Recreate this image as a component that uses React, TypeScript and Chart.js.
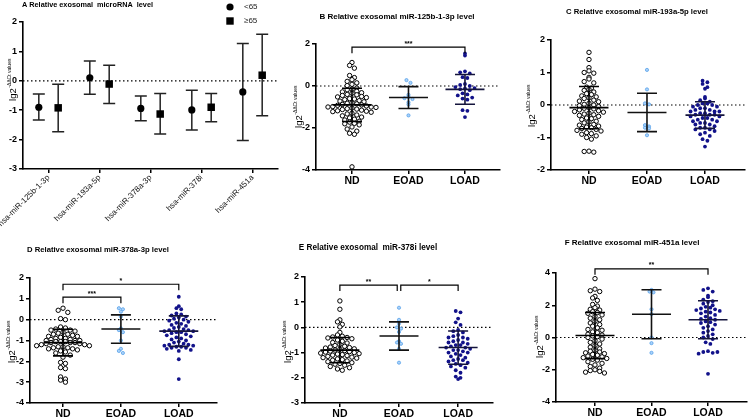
import React, { useEffect, useRef } from "react";
import { Chart, registerables } from "chart.js";

Chart.register(...registerables);

const FONT = '"Liberation Sans", Arial, Helvetica, sans-serif';
Chart.defaults.font.family = FONT;
Chart.defaults.color = "#000";

// ---------------- Panel A : group means with error bars ----------------
const miRNAs = ["hsa-miR-125b-1-3p", "hsa-miR-193a-5p", "hsa-miR-378a-3p", "hsa-miR-378i", "hsa-miR-451a"];
const youngMean = [-0.9, 0.1, -0.94, -0.99, -0.38];
const youngLow = [-1.33, -0.46, -1.36, -1.67, -2.03];
const youngHigh = [-0.45, 0.67, -0.52, -0.32, 1.27];
const oldMean = [-0.92, -0.11, -1.13, -0.9, 0.19];
const oldLow = [-1.73, -0.77, -1.81, -1.39, -1.19];
const oldHigh = [-0.12, 0.53, -0.43, -0.43, 1.58];
const legendLabels = ["<65", "≥65"];

// ---------------- Scatter panels ----------------
const groups = ["ND", "EOAD", "LOAD"];

// B miR-125b-1-3p
const bND = [1.12, 0.98, 0.85, 0.5, 0.4, 0.3, 0.22, 0.15, 0.08, 0.02, -0.1, -0.15, -0.18, -0.25, -0.28, -0.32, -0.35, -0.4, -0.42, -0.45, -0.5, -0.52, -0.55, -0.6, -0.62, -0.65, -0.7, -0.72, -0.75, -0.8, -0.82, -0.85, -0.88, -0.9, -0.92, -0.95, -0.98, -1.0, -1.0, -1.02, -1.05, -1.08, -1.1, -1.12, -1.15, -1.18, -1.2, -1.22, -1.25, -1.3, -1.33, -1.38, -1.42, -1.48, -1.52, -1.58, -1.62, -1.68, -1.72, -1.78, -1.8, -1.85, -1.95, -2.05, -2.15, -2.25, -2.3, -3.85];
const bEOAD = [0.28, 0.15, -0.42, -0.52, -0.58, -0.62, -0.78, -0.88, -1.4];
const bLOAD = [1.55, 1.45, 0.7, 0.65, 0.6, 0.42, 0.38, 0.1, 0.05, 0.0, -0.05, -0.1, -0.12, -0.15, -0.2, -0.35, -0.4, -0.45, -0.55, -0.6, -0.65, -1.15, -1.18, -1.48];
const bMean = [-0.9, -0.55, -0.16];
const bSD = [0.79, 0.52, 0.71];
const bSig: [number, number, number, string][] = [[1, 3, 1.85, "***"]];

// C miR-193a-5p
const cND = [1.62, 1.4, 1.15, 1.05, 1.0, 0.98, 0.85, 0.8, 0.72, 0.68, 0.55, 0.52, 0.48, 0.45, 0.4, 0.35, 0.32, 0.28, 0.25, 0.22, 0.2, 0.15, 0.12, 0.1, 0.05, 0.02, 0.0, -0.02, -0.05, -0.08, -0.1, -0.12, -0.15, -0.18, -0.2, -0.22, -0.25, -0.28, -0.3, -0.32, -0.35, -0.4, -0.42, -0.45, -0.5, -0.52, -0.55, -0.6, -0.62, -0.65, -0.68, -0.7, -0.72, -0.75, -0.78, -0.8, -0.85, -0.88, -0.9, -0.95, -1.0, -1.05, -1.42, -1.43, -1.45];
const cEOAD = [1.08, 0.48, 0.05, 0.02, -0.62, -0.66, -0.7, -0.72, -0.93];
const cLOAD = [0.75, 0.7, 0.65, 0.55, 0.5, 0.25, 0.2, 0.15, 0.1, 0.05, 0.05, 0.0, 0.0, -0.05, -0.05, -0.1, -0.1, -0.15, -0.15, -0.2, -0.2, -0.2, -0.25, -0.25, -0.3, -0.3, -0.3, -0.35, -0.35, -0.4, -0.4, -0.45, -0.45, -0.5, -0.5, -0.55, -0.55, -0.6, -0.6, -0.65, -0.7, -0.7, -0.75, -0.75, -0.8, -0.85, -0.9, -0.95, -1.05, -1.1, -1.28];
const cMean = [-0.08, -0.23, -0.31];
const cSD = [0.65, 0.59, 0.41];
const cSig: [number, number, number, string][] = [];

// D miR-378a-3p
const dND = [0.55, 0.45, 0.35, 0.05, 0.0, -0.35, -0.4, -0.45, -0.5, -0.5, -0.55, -0.6, -0.65, -0.7, -0.7, -0.75, -0.8, -0.8, -0.85, -0.9, -0.9, -0.95, -0.95, -1.0, -1.0, -1.0, -1.05, -1.05, -1.05, -1.1, -1.1, -1.1, -1.15, -1.15, -1.2, -1.2, -1.25, -1.25, -1.3, -1.3, -1.35, -1.35, -1.4, -1.4, -1.45, -1.5, -1.55, -1.6, -1.7, -1.8, -2.05, -2.1, -2.3, -2.35, -2.75, -2.85, -2.9, -3.0];
const dEOAD = [0.55, 0.5, 0.38, 0.15, -0.42, -0.5, -0.6, -1.0, -1.4, -1.5, -1.6];
const dLOAD = [1.1, 0.65, 0.55, 0.5, 0.3, 0.25, 0.2, 0.15, 0.1, 0.05, 0.0, -0.05, -0.1, -0.15, -0.2, -0.25, -0.3, -0.35, -0.4, -0.45, -0.5, -0.5, -0.55, -0.55, -0.6, -0.6, -0.65, -0.7, -0.75, -0.8, -0.85, -0.9, -0.95, -1.0, -1.05, -1.1, -1.15, -1.2, -1.2, -1.25, -1.25, -1.3, -1.3, -1.35, -1.35, -1.4, -1.45, -1.5, -1.9, -2.85];
const dMean = [-1.1, -0.45, -0.55];
const dSD = [0.64, 0.68, 0.73];
const dSig: [number, number, number, string][] = [[1, 2, 1.08, "***"], [1, 3, 1.7, "*"]];

// E miR-378i
const eND = [1.05, 0.72, 0.3, 0.22, 0.12, 0.02, -0.2, -0.3, -0.35, -0.38, -0.4, -0.42, -0.45, -0.5, -0.55, -0.6, -0.62, -0.68, -0.72, -0.75, -0.78, -0.8, -0.82, -0.85, -0.87, -0.9, -0.92, -0.94, -0.96, -0.98, -1.0, -1.02, -1.04, -1.06, -1.08, -1.1, -1.12, -1.15, -1.18, -1.2, -1.22, -1.25, -1.28, -1.3, -1.33, -1.36, -1.4, -1.43, -1.46, -1.5, -1.55, -1.6, -1.65, -1.7];
const eEOAD = [0.78, 0.3, 0.15, 0.0, -0.05, -0.18, -0.55, -0.6, -0.65, -0.85, -1.4];
const eLOAD = [0.65, 0.6, 0.35, 0.2, 0.1, -0.1, -0.15, -0.2, -0.3, -0.35, -0.4, -0.4, -0.45, -0.5, -0.55, -0.6, -0.6, -0.65, -0.7, -0.7, -0.75, -0.8, -0.8, -0.85, -0.9, -0.9, -0.95, -1.0, -1.0, -1.05, -1.1, -1.15, -1.2, -1.25, -1.3, -1.3, -1.35, -1.4, -1.45, -1.5, -1.55, -1.6, -1.7, -1.8, -1.95, -2.0, -2.05];
const eMean = [-0.9, -0.34, -0.8];
const eSD = [0.5, 0.56, 0.66];
const eSig: [number, number, number, string][] = [[1, 1.97, 1.68, "**"], [2.03, 3, 1.68, "*"]];

// F miR-451a
const fND = [3.65, 3.0, 2.9, 2.85, 2.55, 2.45, 2.3, 2.05, 1.95, 1.85, 1.75, 1.7, 1.6, 1.55, 1.5, 1.4, 1.3, 1.2, 1.1, 1.0, 0.9, 0.8, 0.7, 0.6, 0.5, 0.45, 0.35, 0.3, 0.2, 0.15, 0.1, 0.05, 0.0, -0.1, -0.2, -0.3, -0.4, -0.5, -0.6, -0.7, -0.8, -0.85, -0.9, -0.95, -1.0, -1.05, -1.1, -1.15, -1.2, -1.25, -1.3, -1.35, -1.4, -1.5, -1.6, -1.7, -1.8, -1.9, -2.0, -2.05, -2.1, -2.15, -2.2];
const fEOAD = [2.95, 2.85, 2.8, 1.75, 1.45, 0.0, -0.35, -0.95];
const fLOAD = [3.05, 2.95, 2.85, 2.6, 2.5, 2.35, 2.25, 2.2, 2.1, 2.0, 1.9, 1.85, 1.8, 1.75, 1.7, 1.65, 1.6, 1.55, 1.5, 1.4, 1.3, 1.2, 1.15, 1.1, 1.0, 0.95, 0.9, 0.8, 0.7, 0.6, 0.5, 0.4, 0.3, 0.2, 0.1, 0.0, -0.1, -0.3, -0.4, -0.85, -0.9, -0.95, -1.0, -0.9, -2.25];
const fMean = [0.12, 1.44, 1.1];
const fSD = [1.43, 1.52, 1.18];
const fSig: [number, number, number, string][] = [[1, 3, 4.26, "**"]];

// ---------------- layout / style ----------------
type Box = { left: number; top: number; width: number; height: number };
type Area = { l: number; t: number; r: number; b: number };
type Cfg = {
  box: Box; area: Area;
  yMin: number; yMax: number; yStep: number; xMin: number; xMax: number;
  title: string; titleX: number; titleY: number; titleSize: number; titleAlign: CanvasTextAlign;
  yTitleX: number; yTitleY: number;
  data: number[][]; mean: number[]; sd: number[]; sig: [number, number, number, string][];
};

const panels: Cfg[] = [
  { box: { left: 285, top: 0, width: 220, height: 195 }, area: { l: 316, t: 44, r: 500, b: 170 }, yMin: -4, yMax: 2, yStep: 2, xMin: 0.363, xMax: 3.62,
    title: "B Relative exosomal miR-125b-1-3p level", titleX: 397, titleY: 17, titleSize: 8, titleAlign: "center", yTitleX: 298, yTitleY: 107,
    data: [bND, bEOAD, bLOAD], mean: bMean, sd: bSD, sig: bSig },
  { box: { left: 510, top: 0, width: 242, height: 195 }, area: { l: 551, t: 40, r: 745, b: 170 }, yMin: -2, yMax: 2, yStep: 1, xMin: 0.345, xMax: 3.69,
    title: "C Relative exosomal miR-193a-5p level", titleX: 637, titleY: 12, titleSize: 7.7, titleAlign: "center", yTitleX: 531, yTitleY: 106,
    data: [cND, cEOAD, cLOAD], mean: cMean, sd: cSD, sig: cSig },
  { box: { left: 0, top: 235, width: 240, height: 184 }, area: { l: 30, t: 278, r: 217, b: 403 }, yMin: -4, yMax: 2, yStep: 1, xMin: 0.43, xMax: 3.66,
    title: "D Relative exosomal miR-378a-3p level", titleX: 27, titleY: 250, titleSize: 7.7, titleAlign: "left", yTitleX: 11, yTitleY: 342,
    data: [dND, dEOAD, dLOAD], mean: dMean, sd: dSD, sig: dSig },
  { box: { left: 265, top: 235, width: 240, height: 184 }, area: { l: 305, t: 277, r: 493, b: 403 }, yMin: -3, yMax: 2, yStep: 1, xMin: 0.41, xMax: 3.59,
    title: "E Relative exosomal  miR-378i level", titleX: 368, titleY: 248, titleSize: 8.2, titleAlign: "center", yTitleX: 287, yTitleY: 342,
    data: [eND, eEOAD, eLOAD], mean: eMean, sd: eSD, sig: eSig },
  { box: { left: 510, top: 235, width: 242, height: 184 }, area: { l: 556, t: 273, r: 751, b: 402 }, yMin: -4, yMax: 4, yStep: 2, xMin: 0.31, xMax: 3.69,
    title: "F Relative exosomal miR-451a level", titleX: 632, titleY: 243, titleSize: 8, titleAlign: "center", yTitleX: 539, yTitleY: 337,
    data: [fND, fEOAD, fLOAD], mean: fMean, sd: fSD, sig: fSig },
];

const groupStyles = [
  { radius: 2.2, bg: "#ffffff", border: "#000000", bw: 1.0, gap: 4.8, line: "#000000" },
  { radius: 1.6, bg: "#a9d2fa", border: "#4a9ae6", bw: 0.7, gap: 4, line: "#111111" },
  { radius: 1.9, bg: "#12128a", border: "#12128a", bw: 0, gap: 4.8, line: "#14143c" },
];

function swarm(values: number[], center: number, pxX: number, pxY: number, gap: number) {
  const rowH = gap / pxY;
  const rows = new Map<number, number[]>();
  for (const v of values) {
    const k = Math.round(v / rowH);
    if (!rows.has(k)) rows.set(k, []);
    rows.get(k)!.push(v);
  }
  const out: { x: number; y: number }[] = [];
  rows.forEach((list) => {
    const n = list.length;
    const slots = Array.from({ length: n }, (_, j) => j - (n - 1) / 2).sort((a, b) => Math.abs(a) - Math.abs(b) || a - b);
    list.forEach((v, j) => out.push({ x: center + (slots[j] * gap) / pxX, y: v }));
  });
  return out;
}

function drawYTitle(ctx: CanvasRenderingContext2D, x: number, y: number) {
  ctx.save();
  ctx.translate(x, y);
  ctx.rotate(-Math.PI / 2);
  const main = "lg2";
  const sup = "-ΔΔCt values";
  ctx.font = `9.5px ${FONT}`;
  const w1 = ctx.measureText(main).width;
  ctx.font = `5px ${FONT}`;
  const w2 = ctx.measureText(sup).width;
  const start = -(w1 + w2) / 2;
  ctx.fillStyle = "#000";
  ctx.textAlign = "left";
  ctx.textBaseline = "alphabetic";
  ctx.font = `9.5px ${FONT}`;
  ctx.fillText(main, start, 3.5);
  ctx.font = `5px ${FONT}`;
  ctx.fillText(sup, start + w1 + 0.5, -1.5);
  ctx.restore();
}

function axisOptions(box: Box, area: Area) {
  const yWidth = area.l - box.left;
  const xHeight = box.top + box.height - area.b;
  return {
    padding: { left: 0, top: area.t - box.top, right: box.left + box.width - area.r, bottom: 0 },
    yFit: (s: any) => { s.width = yWidth; s.paddingTop = 0; s.paddingBottom = 0; },
    xFit: (s: any) => { s.height = xHeight; s.paddingLeft = 0; s.paddingRight = 0; },
  };
}

const axisLine = { display: true, color: "#000", width: 1.6 };
const tickGrid = { drawOnChartArea: false, drawTicks: true, tickLength: 4, color: "#000", lineWidth: 1.5 };

function ScatterPanel({ cfg }: { cfg: Cfg }) {
  const ref = useRef<HTMLCanvasElement>(null);
  useEffect(() => {
    const { box, area } = cfg;
    const pxX = (area.r - area.l) / (cfg.xMax - cfg.xMin);
    const pxY = (area.b - area.t) / (cfg.yMax - cfg.yMin);
    const L = axisOptions(box, area);
    const datasets = cfg.data.map((vals, i) => {
      const st = groupStyles[i];
      return {
        label: groups[i],
        data: swarm(vals, i + 1, pxX, pxY, st.gap),
        pointRadius: st.radius,
        pointBackgroundColor: st.bg,
        pointBorderColor: st.border,
        pointBorderWidth: st.bw,
        showLine: false,
        clip: false as any,
      };
    });
    const decor = {
      id: "decor",
      beforeDatasetsDraw(chart: any) {
        const { ctx, chartArea, scales } = chart;
        const y0 = scales.y.getPixelForValue(0);
        ctx.save();
        ctx.setLineDash([1.5, 2.5]);
        ctx.lineWidth = 1.2;
        ctx.strokeStyle = "#000";
        ctx.beginPath();
        ctx.moveTo(chartArea.left, y0);
        ctx.lineTo(chartArea.right, y0);
        ctx.stroke();
        ctx.restore();
      },
      afterDatasetsDraw(chart: any) {
        const { ctx, scales } = chart;
        const { x, y } = scales;
        ctx.save();
        cfg.mean.forEach((m, i) => {
          const cx = x.getPixelForValue(i + 1);
          const ym = y.getPixelForValue(m);
          const yt = y.getPixelForValue(m + cfg.sd[i]);
          const yb = y.getPixelForValue(m - cfg.sd[i]);
          ctx.strokeStyle = groupStyles[i].line;
          ctx.lineWidth = 1.6;
          ctx.beginPath();
          ctx.moveTo(cx - 19.5, ym); ctx.lineTo(cx + 19.5, ym);
          ctx.moveTo(cx - 10, yt); ctx.lineTo(cx + 10, yt);
          ctx.moveTo(cx - 10, yb); ctx.lineTo(cx + 10, yb);
          ctx.moveTo(cx, yt); ctx.lineTo(cx, yb);
          ctx.stroke();
        });
        cfg.sig.forEach(([a, b, v, label]) => {
          const x1 = x.getPixelForValue(a);
          const x2 = x.getPixelForValue(b);
          const yy = y.getPixelForValue(v);
          ctx.strokeStyle = "#000";
          ctx.lineWidth = 1.2;
          ctx.beginPath();
          ctx.moveTo(x1, yy + 6); ctx.lineTo(x1, yy); ctx.lineTo(x2, yy); ctx.lineTo(x2, yy + 6);
          ctx.stroke();
          ctx.fillStyle = "#000";
          ctx.font = `bold 7px ${FONT}`;
          ctx.textAlign = "center";
          ctx.textBaseline = "alphabetic";
          ctx.fillText(label, (x1 + x2) / 2, yy - 1.5);
        });
        ctx.restore();
      },
      afterDraw(chart: any) {
        const { ctx } = chart;
        ctx.save();
        ctx.fillStyle = "#000";
        ctx.font = `bold ${cfg.titleSize}px ${FONT}`;
        ctx.textAlign = cfg.titleAlign;
        ctx.textBaseline = "middle";
        ctx.fillText(cfg.title, cfg.titleX - box.left, cfg.titleY - box.top);
        ctx.restore();
        drawYTitle(ctx, cfg.yTitleX - box.left, cfg.yTitleY - box.top);
      },
    };
    const chart = new Chart(ref.current!, {
      type: "scatter",
      data: { datasets },
      options: {
        animation: false,
        responsive: false,
        devicePixelRatio: 1,
        events: [],
        layout: { padding: L.padding },
        plugins: { legend: { display: false }, tooltip: { enabled: false }, title: { display: false } },
        scales: {
          x: {
            type: "linear", min: cfg.xMin, max: cfg.xMax,
            afterBuildTicks: (s: any) => { s.ticks = [1, 2, 3].map((v) => ({ value: v })); },
            afterFit: L.xFit,
            ticks: { callback: (v: any) => groups[Math.round(v) - 1] ?? "", font: { size: 10.5, weight: "bold" }, color: "#000", padding: 1, maxRotation: 0, autoSkip: false },
            grid: tickGrid, border: axisLine,
          },
          y: {
            min: cfg.yMin, max: cfg.yMax,
            afterFit: L.yFit,
            ticks: { stepSize: cfg.yStep, font: { size: 9, weight: "bold" }, color: "#000", padding: 2 },
            grid: tickGrid, border: axisLine,
          },
        },
      } as any,
      plugins: [decor],
    });
    return () => chart.destroy();
  }, [cfg]);
  const { box } = cfg;
  return <canvas ref={ref} width={box.width} height={box.height} style={{ position: "absolute", left: box.left, top: box.top, width: box.width, height: box.height }} />;
}

function PanelA() {
  const ref = useRef<HTMLCanvasElement>(null);
  const box: Box = { left: 0, top: 0, width: 290, height: 240 };
  const area: Area = { l: 23, t: 22, r: 278, b: 169 };
  useEffect(() => {
    const L = axisOptions(box, area);
    const off = 0.19;
    const decor = {
      id: "decorA",
      beforeDatasetsDraw(chart: any) {
        const { ctx, chartArea, scales } = chart;
        const { x, y } = scales;
        ctx.save();
        const y0 = y.getPixelForValue(0);
        ctx.setLineDash([1.5, 2.5]);
        ctx.lineWidth = 1.2;
        ctx.strokeStyle = "#000";
        ctx.beginPath();
        ctx.moveTo(chartArea.left, y0);
        ctx.lineTo(chartArea.right, y0);
        ctx.stroke();
        ctx.setLineDash([]);
        ctx.strokeStyle = "#222";
        ctx.lineWidth = 1.5;
        const bars = (lows: number[], highs: number[], d: number) => {
          lows.forEach((lo, i) => {
            const cx = x.getPixelForValue(i + d);
            const a = y.getPixelForValue(lo);
            const b = y.getPixelForValue(highs[i]);
            ctx.beginPath();
            ctx.moveTo(cx, a); ctx.lineTo(cx, b);
            ctx.moveTo(cx - 6, a); ctx.lineTo(cx + 6, a);
            ctx.moveTo(cx - 6, b); ctx.lineTo(cx + 6, b);
            ctx.stroke();
          });
        };
        bars(youngLow, youngHigh, -off);
        bars(oldLow, oldHigh, off);
        ctx.restore();
      },
      afterDraw(chart: any) {
        const { ctx } = chart;
        ctx.save();
        ctx.fillStyle = "#000";
        ctx.font = `bold 7.3px ${FONT}`;
        ctx.textAlign = "left";
        ctx.textBaseline = "middle";
        ctx.fillText("A Relative exosomal  microRNA  level", 22, 5);
        ctx.beginPath();
        ctx.arc(230, 7, 3.6, 0, Math.PI * 2);
        ctx.fill();
        ctx.fillRect(226.3, 17.3, 7.4, 7.4);
        ctx.font = `8px ${FONT}`;
        ctx.fillStyle = "#222";
        ctx.fillText(legendLabels[0], 244, 7);
        ctx.fillText(legendLabels[1], 244, 21);
        ctx.restore();
        drawYTitle(ctx, 12, 80);
      },
    };
    const chart = new Chart(ref.current!, {
      type: "scatter",
      data: {
        datasets: [
          { label: legendLabels[0], data: youngMean.map((m, i) => ({ x: i - off, y: m })), pointStyle: "circle", pointRadius: 3.6, pointBackgroundColor: "#000", pointBorderColor: "#000", pointBorderWidth: 0, clip: false as any },
          { label: legendLabels[1], data: oldMean.map((m, i) => ({ x: i + off, y: m })), pointStyle: "rect", pointRadius: 5.3, pointBackgroundColor: "#000", pointBorderColor: "#000", pointBorderWidth: 0, clip: false as any },
        ],
      },
      options: {
        animation: false,
        responsive: false,
        devicePixelRatio: 1,
        events: [],
        layout: { padding: L.padding },
        plugins: { legend: { display: false }, tooltip: { enabled: false } },
        scales: {
          x: {
            type: "linear", min: -0.5, max: 4.5,
            afterBuildTicks: (s: any) => { s.ticks = [0, 1, 2, 3, 4].map((v) => ({ value: v })); },
            afterFit: L.xFit,
            ticks: { callback: (v: any) => miRNAs[Math.round(v)] ?? "", font: { size: 8 }, color: "#111", padding: 0, minRotation: 45, maxRotation: 45, autoSkip: false },
            grid: tickGrid, border: axisLine,
          },
          y: {
            min: -3, max: 2,
            afterFit: L.yFit,
            ticks: { stepSize: 1, font: { size: 9, weight: "bold" }, color: "#000", padding: 2 },
            grid: tickGrid, border: axisLine,
          },
        },
      } as any,
      plugins: [decor],
    });
    return () => chart.destroy();
  }, []);
  return <canvas ref={ref} width={box.width} height={box.height} style={{ position: "absolute", left: box.left, top: box.top, width: box.width, height: box.height }} />;
}

export default function App() {
  return (
    <div style={{ position: "fixed", left: 0, top: 0, width: 752, height: 419, background: "#fff", overflow: "hidden" }}>
      <PanelA />
      {panels.map((p, i) => (
        <ScatterPanel key={i} cfg={p} />
      ))}
    </div>
  );
}
